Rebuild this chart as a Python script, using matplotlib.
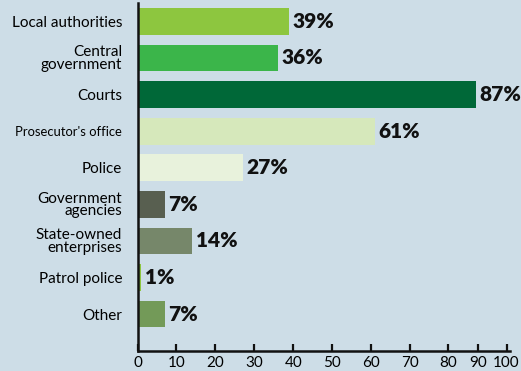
import matplotlib
matplotlib.use('Agg')
import matplotlib.pyplot as plt

# survey categories, top to bottom
categories = ['Local authorities', 'Central\ngovernment', 'Courts', "Prosecutor's office",
              'Police', 'Government\nagencies', 'State-owned\nenterprises', 'Patrol police', 'Other']
values = [39, 36, 87, 61, 27, 7, 14, 1, 7]
bar_colors = ['#8dc63f', '#3bb54a', '#006838', '#d6e8bb', '#e8f2dc',
              '#585f50', '#76876a', '#8dc63f', '#739a58']

# axis ticks as printed (the original graphic squeezes 80-100)
tick_pos = [0, 10, 20, 30, 40, 50, 60, 70, 79.8, 87.5, 94.8]
tick_labels = ['0', '10', '20', '30', '40', '50', '60', '70', '80', '90', '100']

bg = '#cddde7'

fig = plt.figure(figsize=(5.21, 3.71), dpi=100, facecolor=bg)
ax = fig.add_axes([0.264, 0.0547, 0.715, 0.937])
ax.set_facecolor(bg)

ypos = list(range(len(categories)))
ax.barh(ypos, values, height=0.73, color=bar_colors)

for y, v in zip(ypos, values):
    ax.annotate(f'{v}%', xy=(v, y), xytext=(2.5, 0), textcoords='offset points',
                va='center', ha='left', fontsize=15, fontweight='heavy',
                family='Lato', color='#111111', annotation_clip=False)

ax.set_xlim(0, 95.7)
ax.set_ylim(len(categories) - 1 + 1.0, -0.5)

ax.set_yticks(ypos)
ax.set_yticklabels(categories, fontsize=11, family='Lato', linespacing=0.85)
ax.get_yticklabels()[3].set_fontsize(9.4)
ax.tick_params(axis='y', length=0, pad=11)

ax.set_xticks(tick_pos)
ax.set_xticklabels(tick_labels, fontsize=11, family='Lato')
ax.tick_params(axis='x', direction='in', length=5, width=1.6, pad=4, color='#111111')

for s in ['top', 'right']:
    ax.spines[s].set_visible(False)
for s in ['left', 'bottom']:
    ax.spines[s].set_linewidth(1.8)
    ax.spines[s].set_color('#111111')

fig.savefig('out.png', dpi=100, facecolor=bg)
